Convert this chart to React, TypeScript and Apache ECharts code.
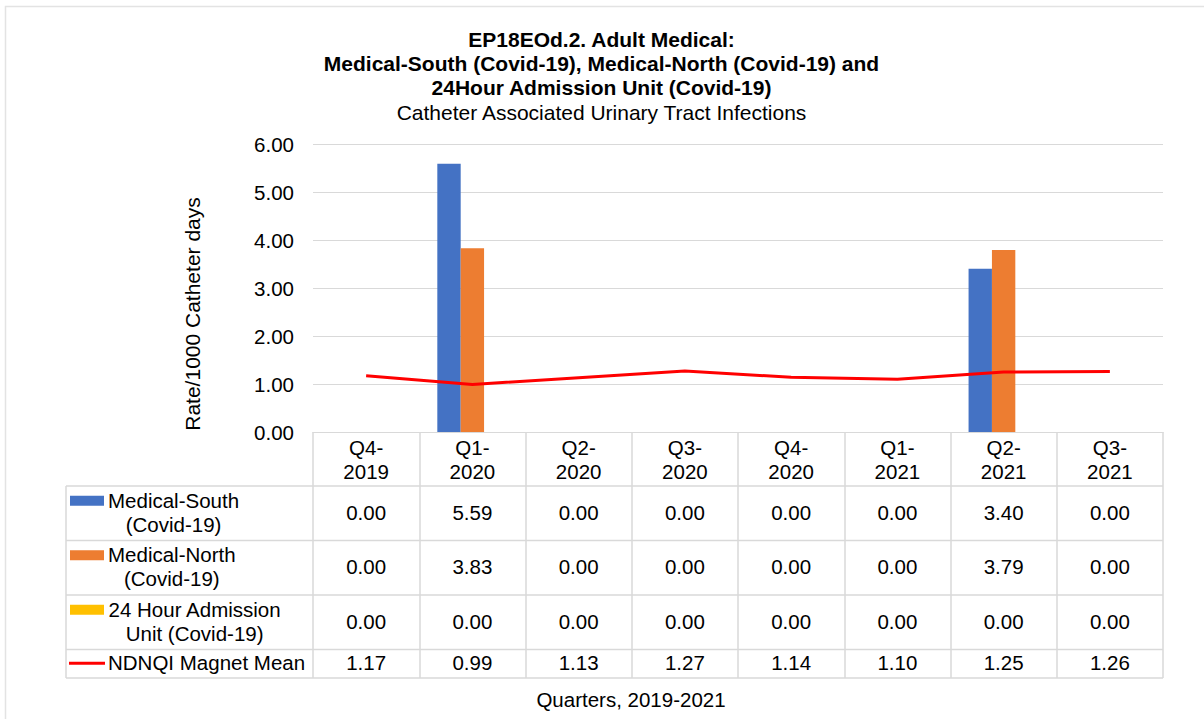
import React, { useEffect, useRef } from "react";
import * as echarts from "echarts";

const categories = ["Q4-2019", "Q1-2020", "Q2-2020", "Q3-2020", "Q4-2020", "Q1-2021", "Q2-2021", "Q3-2021"];
const medicalSouth = [0, 5.59, 0, 0, 0, 0, 3.4, 0];
const medicalNorth = [0, 3.83, 0, 0, 0, 0, 3.79, 0];
const admissionUnit = [0, 0, 0, 0, 0, 0, 0, 0];
const ndnqiMean = [1.17, 0.99, 1.13, 1.27, 1.14, 1.1, 1.25, 1.26];

const seriesNames = ["Medical-South\n(Covid-19)", "Medical-North\n(Covid-19)", "24 Hour Admission\nUnit (Covid-19)", "NDNQI Magnet Mean"];
const seriesColors = ["#4472C4", "#ED7D31", "#FFC000", "#FF0000"];

const titleLines = "EP18EOd.2. Adult Medical:\nMedical-South (Covid-19), Medical-North (Covid-19) and\n24Hour Admission Unit (Covid-19)";
const subtitleText = "Catheter Associated Urinary Tract Infections";
const yAxisTitle = "Rate/1000 Catheter days";
const xAxisTitle = "Quarters, 2019-2021";

const FONT = "'Liberation Sans', Arial, sans-serif";
const TXT = 20.5;
const GRID_LEFT = 313;
const GRID_RIGHT_X = 1163;
const GRID_TOP = 144;
const AXIS_Y = 432;
const TABLE_LEFT = 66;
const ROW_LINES = [432, 486, 540.5, 595, 649.5, 678];
const LINE_COLOR = "#d9d9d9";

function measure(text: string, size: number): number {
  const c = document.createElement("canvas").getContext("2d");
  if (!c) return text.length * size * 0.5;
  c.font = `${size}px 'Liberation Sans', Arial, sans-serif`;
  return c.measureText(text).width;
}

export default function App() {
  const ref = useRef<HTMLDivElement>(null);
  useEffect(() => {
    if (!ref.current) return;
    const chart = echarts.init(ref.current, null, { renderer: "svg" });
    const W = 1204, H = 719;
    const allSeries = [medicalSouth, medicalNorth, admissionUnit, ndnqiMean];
    chart.setOption({
      animation: false,
      backgroundColor: "#ffffff",
      textStyle: { fontFamily: FONT },
      grid: { left: GRID_LEFT, right: W - GRID_RIGHT_X, top: GRID_TOP, bottom: H - AXIS_Y, containLabel: false },
      xAxis: {
        type: "category",
        data: categories,
        axisLine: { show: true, lineStyle: { color: LINE_COLOR, width: 1 } },
        axisTick: { show: true, length: ROW_LINES[ROW_LINES.length - 1] - AXIS_Y, lineStyle: { color: LINE_COLOR, width: 1.5 } },
        axisLabel: {
          fontSize: TXT,
          color: "#000",
          lineHeight: 24,
          margin: 3,
          fontFamily: FONT,
          formatter: (v: string) => v.replace("-", "-\n"),
        },
      },
      yAxis: {
        type: "value",
        min: 0,
        max: 6,
        interval: 1,
        axisLine: { show: false },
        axisTick: { show: false },
        splitLine: { lineStyle: { color: LINE_COLOR, width: 1 } },
        axisLabel: { fontSize: TXT, color: "#000", margin: 19, fontFamily: FONT, formatter: (v: number) => v.toFixed(2) },
      },
      series: [
        { name: "Medical-South (Covid-19)", type: "bar", data: medicalSouth, itemStyle: { color: seriesColors[0] }, barGap: "0%", barCategoryGap: "34%" },
        { name: "Medical-North (Covid-19)", type: "bar", data: medicalNorth, itemStyle: { color: seriesColors[1] }, barGap: "0%", barCategoryGap: "34%" },
        { name: "24 Hour Admission Unit (Covid-19)", type: "bar", data: admissionUnit, itemStyle: { color: seriesColors[2] }, barGap: "0%", barCategoryGap: "34%" },
        { name: "NDNQI Magnet Mean", type: "line", data: ndnqiMean, symbol: "none", lineStyle: { color: seriesColors[3], width: 3 }, itemStyle: { color: seriesColors[3] }, z: 5 },
      ],
    });

    const centers = categories.map((_, i) => chart.convertToPixel({ xAxisIndex: 0 }, i) as number);
    const graphics: any[] = [];
    // outer frame
    graphics.push({ type: "rect", shape: { x: 5.5, y: 6.5, width: 1220, height: 730 }, style: { fill: "none", stroke: "#e3e3e3", lineWidth: 1.5 }, silent: true });
    // titles
    graphics.push({
      type: "text",
      x: 601.5,
      y: 63,
      style: { text: titleLines, fontSize: 21, fontWeight: "bold", lineHeight: 24, fill: "#000", fontFamily: FONT, align: "center", verticalAlign: "middle" },
    });
    graphics.push({
      type: "text",
      x: 601.5,
      y: 112,
      style: { text: subtitleText, fontSize: 21, fill: "#000", fontFamily: FONT, align: "center", verticalAlign: "middle" },
    });
    // table horizontal lines
    ROW_LINES.slice(1).forEach((y) => {
      graphics.push({ type: "line", shape: { x1: TABLE_LEFT, y1: y, x2: GRID_RIGHT_X, y2: y }, style: { stroke: LINE_COLOR, lineWidth: 1.5 } });
    });
    graphics.push({ type: "line", shape: { x1: TABLE_LEFT, y1: ROW_LINES[1], x2: TABLE_LEFT, y2: ROW_LINES[ROW_LINES.length - 1] }, style: { stroke: LINE_COLOR, lineWidth: 1.5 } });
    // table rows
    allSeries.forEach((data, r) => {
      const yMid = (ROW_LINES[r + 1] + ROW_LINES[r + 2]) / 2 - 1;
      data.forEach((v, i) => {
        graphics.push({
          type: "text",
          x: centers[i],
          y: yMid,
          style: { text: v.toFixed(2), fontSize: TXT, fill: "#000", fontFamily: FONT, align: "center", verticalAlign: "middle" },
        });
      });
      // legend key
      if (r < 3) {
        graphics.push({ type: "rect", shape: { x: 70, y: yMid - 16.5, width: 34, height: 10 }, style: { fill: seriesColors[r] } });
      } else {
        graphics.push({ type: "line", shape: { x1: 69, y1: yMid + 0.5, x2: 105, y2: yMid + 0.5 }, style: { stroke: seriesColors[r], lineWidth: 3 } });
      }
      const lines = seriesNames[r].split("\n");
      const blockW = Math.max(...lines.map((l) => measure(l, TXT)));
      graphics.push({
        type: "text",
        x: 108 + blockW / 2,
        y: yMid,
        style: { text: seriesNames[r], fontSize: TXT, lineHeight: 24, fill: "#000", fontFamily: FONT, align: "center", verticalAlign: "middle" },
      });
    });
    // y-axis title
    graphics.push({
      type: "text",
      x: 192,
      y: 314,
      rotation: Math.PI / 2,
      style: { text: yAxisTitle, fontSize: 21, fill: "#000", fontFamily: FONT, align: "center", verticalAlign: "middle" },
    });
    // x-axis title
    graphics.push({
      type: "text",
      x: 631,
      y: 699,
      style: { text: xAxisTitle, fontSize: TXT, fill: "#000", fontFamily: FONT, align: "center", verticalAlign: "middle" },
    });
    chart.setOption({ graphic: graphics });
    return () => chart.dispose();
  }, []);
  return <div ref={ref} style={{ position: "fixed", left: 0, top: 0, width: 1204, height: 719 }} />;
}
